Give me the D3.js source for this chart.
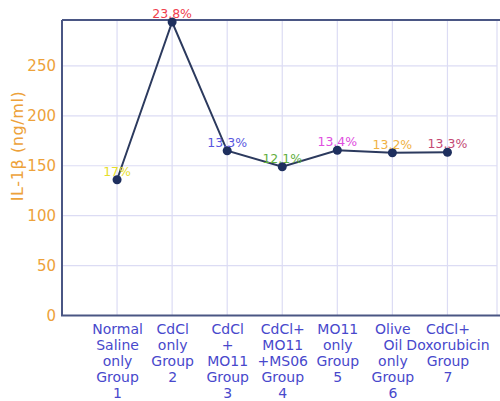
<!DOCTYPE html>
<html>
<head>
<meta charset="utf-8">
<script src="https://cdn.jsdelivr.net/npm/d3@7"></script>
<style>
  body { margin: 0; background: #fff; }
  svg { display: block; font-family: "DejaVu Sans", Verdana, sans-serif; }
</style>
</head>
<body>
<div id="chart"></div>
<script>
// Datos
const grupos = [1, 2, 3, 4, 5, 6, 7];
const etiquetas = [
  ["Normal", "Saline", "only", "Group", "1"],
  ["CdCl", "only", "Group", "2"],
  ["CdCl", "+", "MO11", "Group", "3"],
  ["CdCl+", "MO11", "+MS06", "Group", "4"],
  ["MO11", "only", "Group", "5"],
  ["Olive", "Oil", "only", "Group", "6"],
  ["CdCl+", "Doxorubicin", "Group", "7"]
];
const valores = [136, 294, 165, 149, 165.5, 163, 163.5];
const porcentajes = ["17%", "23.8%", "13.3%", "12.1%", "13.4%", "13.2%", "13.3%"];
const coloresPct = ["#e6de2a", "#f0404e", "#5858e0", "#5fae3e", "#e04ee0", "#f0b244", "#c44a74"];
const yTicks = [0, 50, 100, 150, 200, 250];

const width = 500, height = 401;
const mLeft = 62, mRight = 497, mTop = 20, mBottom = 315.5;

const svg = d3.select("#chart").append("svg")
  .attr("width", width)
  .attr("height", height);

const x = d3.scaleLinear().domain([0, 7.9]).range([mLeft, mRight]);
const y = d3.scaleLinear().domain([0, 296]).range([mBottom, mTop]);

// rejilla
svg.append("g")
  .selectAll("line")
  .data(grupos.concat([7.9]))
  .enter().append("line")
  .attr("x1", d => x(d)).attr("x2", d => x(d))
  .attr("y1", mTop).attr("y2", mBottom)
  .attr("stroke", "#dcdcf4").attr("stroke-width", 1.2);

svg.append("g")
  .selectAll("line")
  .data(yTicks.filter(d => d > 0))
  .enter().append("line")
  .attr("x1", mLeft).attr("x2", mRight)
  .attr("y1", d => y(d)).attr("y2", d => y(d))
  .attr("stroke", "#dcdcf4").attr("stroke-width", 1.2);

// ejes
const yAxis = svg.append("g")
  .attr("transform", `translate(${mLeft},0)`)
  .call(d3.axisLeft(y).tickValues(yTicks).tickSize(0).tickPadding(6));
yAxis.select(".domain").remove();
yAxis.selectAll("text")
  .attr("fill", "#eda23a")
  .style("font-size", "15px")
  .style("font-family", "DejaVu Sans, sans-serif");

const xAxis = svg.append("g")
  .attr("transform", `translate(0,${mBottom})`)
  .call(d3.axisBottom(x).tickValues(grupos).tickSize(0).tickFormat(""));
xAxis.select(".domain").remove();
xAxis.selectAll(".tick").each(function(d, i) {
  const t = d3.select(this).append("text")
    .attr("fill", "#4848cc")
    .attr("text-anchor", "middle")
    .style("font-size", "14px")
    .style("font-family", "DejaVu Sans, sans-serif");
  etiquetas[i].forEach((linea, j) => {
    t.append("tspan").attr("x", 0).attr("y", 18 + j * 16).text(linea);
  });
});

// marco
svg.append("line").attr("x1", mLeft).attr("x2", mLeft).attr("y1", mTop).attr("y2", mBottom)
  .attr("stroke", "#4a5684").attr("stroke-width", 2);
svg.append("line").attr("x1", mLeft).attr("x2", width).attr("y1", mTop).attr("y2", mTop)
  .attr("stroke", "#4a5684").attr("stroke-width", 2);
svg.append("line").attr("x1", mLeft - 1).attr("x2", width).attr("y1", mBottom).attr("y2", mBottom)
  .attr("stroke", "#4a5684").attr("stroke-width", 2);

// línea de datos
const linea = d3.line()
  .x((d, i) => x(grupos[i]))
  .y(d => y(d));

svg.append("path")
  .datum(valores)
  .attr("d", linea)
  .attr("fill", "none")
  .attr("stroke", "#2c3a5e")
  .attr("stroke-width", 2);

svg.selectAll("circle")
  .data(valores)
  .enter().append("circle")
  .attr("cx", (d, i) => x(grupos[i]))
  .attr("cy", d => y(d))
  .attr("r", 4.5)
  .attr("fill", "#1e2f5e");

svg.selectAll("text.pct")
  .data(valores)
  .enter().append("text")
  .attr("class", "pct")
  .attr("x", (d, i) => x(grupos[i]))
  .attr("y", d => y(d) - 4)
  .attr("text-anchor", "middle")
  .attr("fill", (d, i) => coloresPct[i])
  .style("font-size", "12.5px")
  .text((d, i) => porcentajes[i]);

// etiqueta eje Y
svg.append("text")
  .attr("transform", "rotate(-90)")
  .attr("x", -146)
  .attr("y", 23)
  .attr("text-anchor", "middle")
  .attr("fill", "#eda23a")
  .style("font-size", "16px")
  .style("letter-spacing", "0.6px")
  .text("IL-1β (ng/ml)");
</script>
</body>
</html>
